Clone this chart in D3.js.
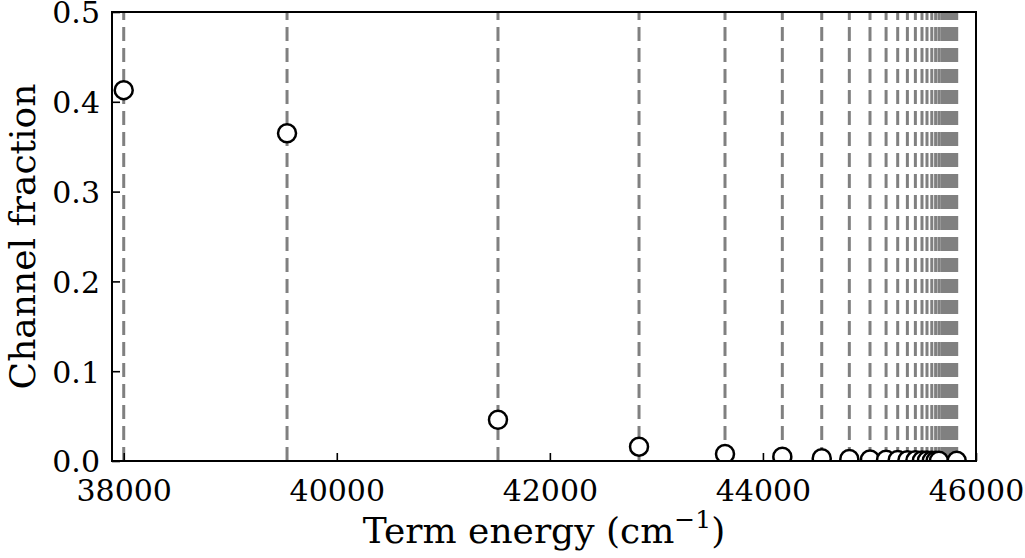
<html>
<head>
	<script src="https://d3js.org/d3.v7.min.js"></script>
</head>
<style>
	body {
		margin: 0;
		background: white;
	}
	text {
		font-family: "DejaVu Serif", serif;
	}
</style>
<body>
<script>

// term energies (cm^-1) of the series members
const termEnergies = [
	38000, 39533, 41513, 42837, 43644, 44182, 44552, 44811,
	45005, 45156, 45265, 45356, 45431, 45493, 45540, 45585,
	45621, 45652, 45679, 45702, 45722, 45740, 45755, 45769,
	45781, 45792, 45802, 45811, 45819
	];

// open circles: energy and channel fraction
const fractionEnergies = [
	38000, 39533, 41513, 42837, 43644, 44182, 44552, 44811,
	45005, 45156, 45265, 45356, 45431, 45493, 45540, 45585,
	45621, 45652, 45819
	];
const channelFractions = [
	0.413, 0.365, 0.046, 0.016, 0.0078, 0.0048, 0.0032, 0.0023,
	0.0017, 0.0013, 0.0010, 0.0008, 0.0007, 0.0006, 0.0005, 0.0004,
	0.0004, 0.0003, 0.0002
	];

const xTicks = [38000, 40000, 42000, 44000, 46000];
const yTicks = [0.0, 0.1, 0.2, 0.3, 0.4, 0.5];

const width = 1025, height = 558;
const plotLeft = 112, plotRight = 976, plotTop = 12, plotBottom = 461;

var xScale = d3.scaleLinear().domain([37890, 46000]).range([plotLeft, plotRight]);
var yScale = d3.scaleLinear().domain([0, 0.5]).range([plotBottom, plotTop]);

var svg = d3.select("body")
	.append("svg")
	.attr("width", width)
	.attr("height", height);

svg.append("clipPath")
	.attr("id", "plotArea")
	.append("rect")
	.attr("x", plotLeft)
	.attr("y", plotTop)
	.attr("width", plotRight - plotLeft)
	.attr("height", plotBottom - plotTop);

var plot = svg.append("g")
	.attr("clip-path", "url(#plotArea)");

// dashed vertical lines, drawn bottom to top like axvline
plot.selectAll("line.term")
	.data(termEnergies)
	.enter()
	.append("line")
	.attr("class", "term")
	.attr("x1", d => xScale(d))
	.attr("x2", d => xScale(d))
	.attr("y1", yScale(0))
	.attr("y2", yScale(0.5))
	.attr("stroke", "#808080")
	.attr("stroke-width", 3)
	.attr("stroke-dasharray", "14 7");

plot.selectAll("circle")
	.data(fractionEnergies)
	.enter()
	.append("circle")
	.attr("cx", d => xScale(d))
	.attr("cy", (d, i) => yScale(channelFractions[i]))
	.attr("r", 9)
	.attr("fill", "white")
	.attr("stroke", "black")
	.attr("stroke-width", 2.5);

var xAxis = d3.axisBottom(xScale)
	.tickValues(xTicks)
	.tickFormat(d3.format("d"))
	.tickSizeInner(-8)
	.tickSizeOuter(0)
	.tickPadding(19);

var yAxis = d3.axisLeft(yScale)
	.tickValues(yTicks)
	.tickFormat(d3.format(".1f"))
	.tickSizeInner(-8)
	.tickSizeOuter(0)
	.tickPadding(12);

svg.append("g")
	.attr("transform", "translate(0," + plotBottom + ")")
	.call(xAxis)
	.call(g => g.select(".domain").remove())
	.call(g => g.selectAll("line").attr("stroke-width", 1.6))
	.call(g => g.selectAll("text")
		.attr("fill", "black")
		.style("font-family", "DejaVu Serif")
		.style("font-size", "30px"));

svg.append("g")
	.attr("transform", "translate(" + plotLeft + ",0)")
	.call(yAxis)
	.call(g => g.select(".domain").remove())
	.call(g => g.selectAll("line").attr("stroke-width", 1.6))
	.call(g => g.selectAll("text")
		.attr("fill", "black")
		.attr("dy", "0.36em")
		.style("font-family", "DejaVu Serif")
		.style("font-size", "30px"));

// axes frame
svg.append("rect")
	.attr("x", plotLeft)
	.attr("y", plotTop)
	.attr("width", plotRight - plotLeft)
	.attr("height", plotBottom - plotTop)
	.attr("fill", "none")
	.attr("stroke", "black")
	.attr("stroke-width", 2);

var xLabel = svg.append("text")
	.attr("x", (plotLeft + plotRight) / 2)
	.attr("y", 543)
	.attr("text-anchor", "middle")
	.style("font-size", "36px");
xLabel.append("tspan").text("Term energy (cm");
xLabel.append("tspan")
	.attr("dy", -15)
	.style("font-size", "25px")
	.text("\u22121");
xLabel.append("tspan")
	.attr("dy", 15)
	.text(")");

svg.append("text")
	.attr("transform", "translate(35," + (plotTop + plotBottom) / 2 + ") rotate(-90)")
	.attr("text-anchor", "middle")
	.style("font-size", "36px")
	.text("Channel fraction");

</script>
</body>
</html>
